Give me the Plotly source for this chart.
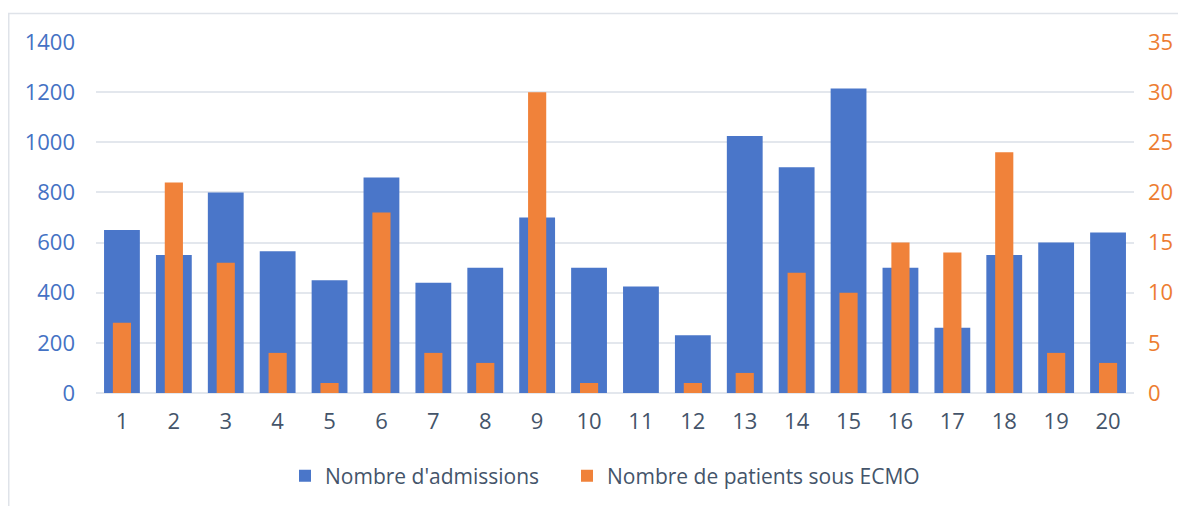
import plotly.graph_objects as go

categories = [str(i) for i in range(1, 21)]
admissions = [650, 550, 800, 565, 450, 860, 440, 500, 700, 500,
              425, 230, 1025, 900, 1215, 500, 260, 550, 600, 640]
ecmo = [7, 21, 13, 4, 1, 18, 4, 3, 30, 1,
        0, 1, 2, 12, 10, 15, 14, 24, 4, 3]

BLUE = "#4a76c9"
ORANGE = "#f0823a"
FONT = "Open Sans, Liberation Sans, sans-serif"

fig = go.Figure()
fig.add_trace(go.Bar(x=categories, y=admissions, name="Nombre d'admissions",
                     marker=dict(color=BLUE, line=dict(width=0)), width=0.69,
                     yaxis="y", legend="legend"))
fig.add_trace(go.Bar(x=categories, y=ecmo, name="Nombre de patients sous ECMO",
                     marker=dict(color=ORANGE, line=dict(width=0)), width=0.35,
                     yaxis="y2", legend="legend2"))

W, H = 1186, 506
OFF = 8  # page body margin
L, R, T, B = 96 - OFF, 1134 - OFF, 42 - OFF, 393 - OFF

def px2paperx(p):
    return (p - OFF - L) / (R - L)

def px2papery(p):
    return (B - (p - OFF)) / (B - T)

legend_common = dict(orientation="h", yanchor="middle", xanchor="left",
                     font=dict(size=21, color="#44546a"), itemwidth=30,
                     bgcolor="rgba(0,0,0,0)")

fig.update_layout(
    width=W, height=H,
    margin=dict(l=L, r=W - R, t=T, b=H - B),
    paper_bgcolor="white", plot_bgcolor="white",
    barmode="overlay",
    font=dict(family=FONT, size=22, color="#44546a"),
    xaxis=dict(type="category", showgrid=False, showline=False, zeroline=False,
               ticks="", tickfont=dict(size=22, color="#44546a"),
               ticklabelstandoff=13),
    yaxis=dict(range=[0, 1400], dtick=200, showgrid=True, gridcolor="#e3e7ed",
               gridwidth=2, zeroline=True, zerolinecolor="#e3e7ed", zerolinewidth=2,
               showline=False, tickfont=dict(size=22, color="#4472c4"),
               ticklabelstandoff=20),
    yaxis2=dict(range=[0, 35], dtick=5, overlaying="y", side="right",
                showgrid=False, zeroline=False, showline=False,
                tickfont=dict(size=22, color="#ed7d31"), ticklabelstandoff=13),
    legend=dict(legend_common, x=px2paperx(285), y=px2papery(476)),
    legend2=dict(legend_common, x=px2paperx(567), y=px2papery(476)),
    showlegend=True,
    shapes=[
        dict(type="line", xref="paper", yref="paper",
             x0=px2paperx(8.5), x1=px2paperx(8.5),
             y0=px2papery(13.5), y1=px2papery(OFF + H + 5),
             line=dict(color="#dfe3e9", width=2)),
        dict(type="line", xref="paper", yref="paper",
             x0=px2paperx(8), x1=px2paperx(OFF + W + 5),
             y0=px2papery(13.5), y1=px2papery(13.5),
             line=dict(color="#dfe3e9", width=1.5)),
    ],
)

fig.write_html("out.html")
